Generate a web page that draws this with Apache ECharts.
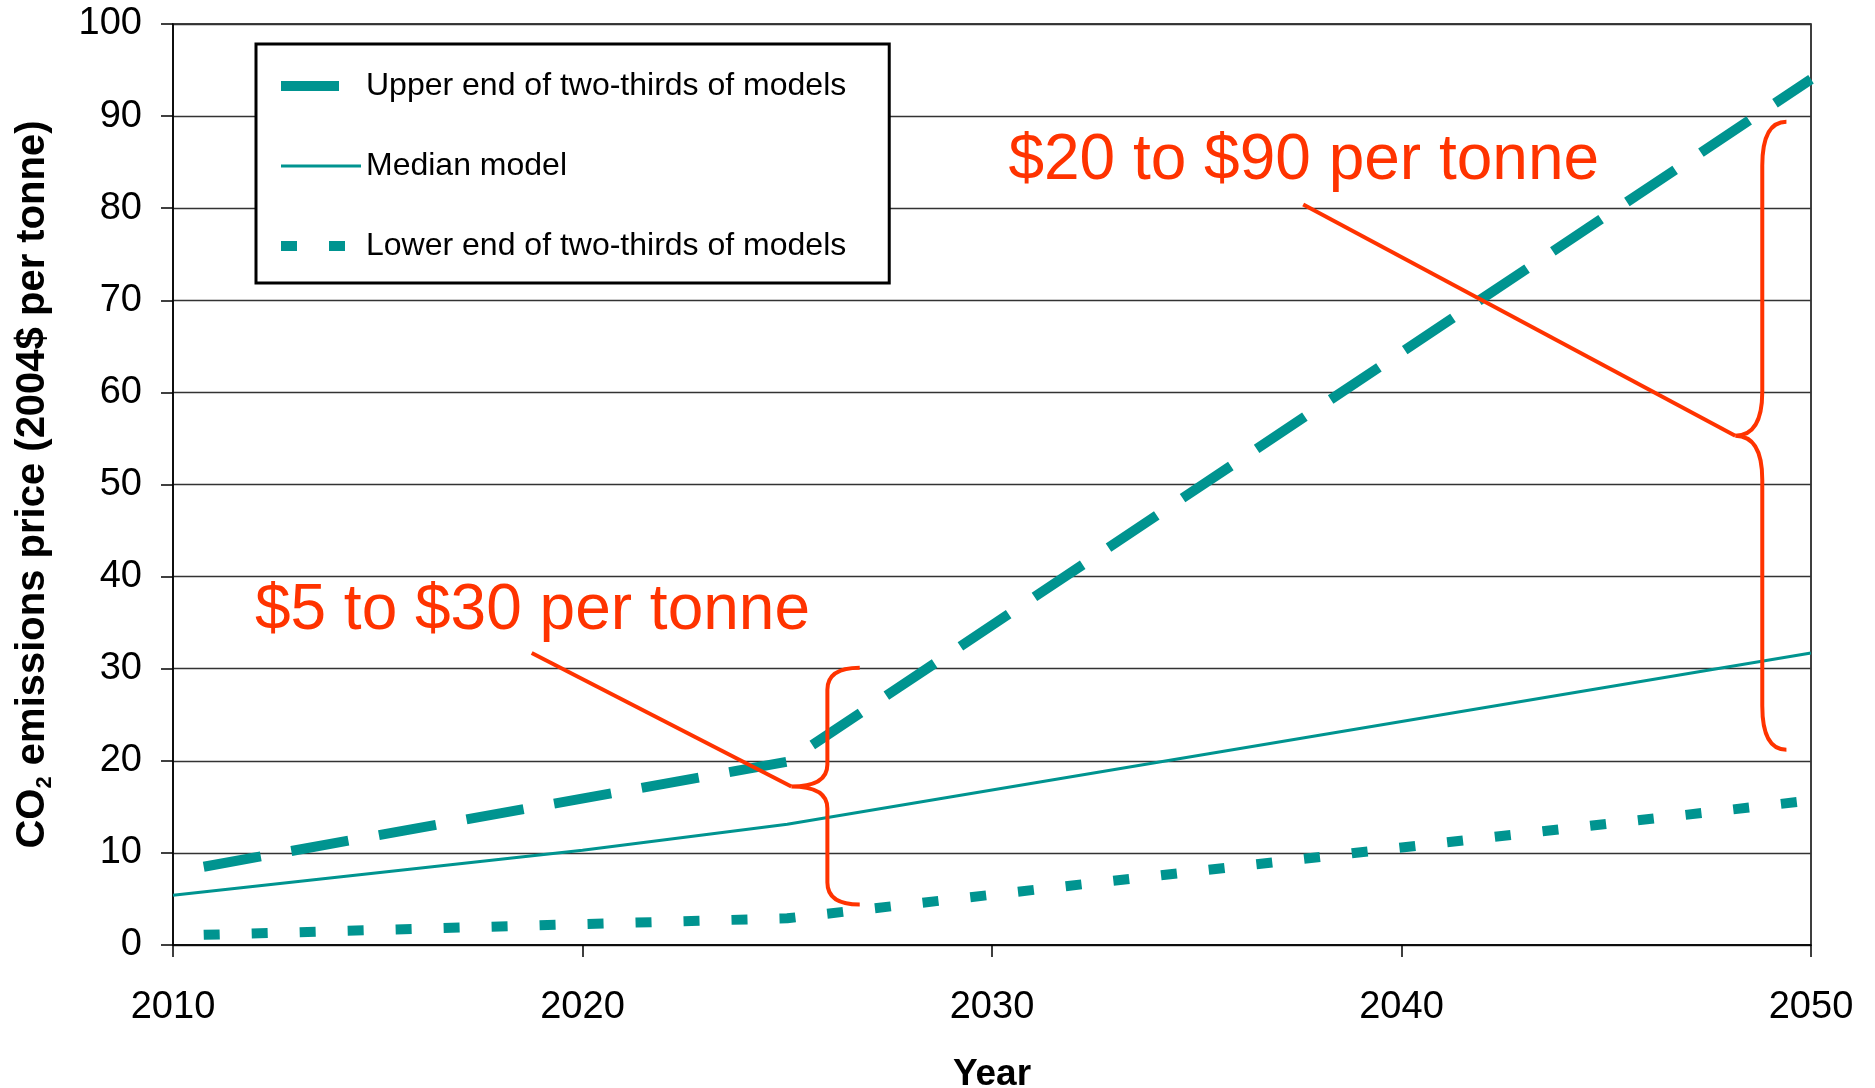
<!DOCTYPE html>
<html>
<head>
<meta charset="utf-8">
<title>CO2 emissions price</title>
<script src="https://cdn.jsdelivr.net/npm/echarts@6/dist/echarts.min.js"></script>
<style>
  html, body { margin: 0; padding: 0; background: #fff; }
  #chart { width: 1875px; height: 1088px; }
</style>
</head>
<body>
<div id="chart"></div>
<script>
const FONT = "'Liberation Sans', Arial, sans-serif";
const TEAL = "#009490";
const RED = "#ff3300";

// series as [year, $ per tonne]
const upperYears = [2010.75, 2025, 2050];
const upperValues = [8.5, 19.9, 94];
const medianYears = [2010, 2020, 2025, 2050];
const medianValues = [5.4, 10.3, 13.1, 31.7];
const lowerYears = [2010.75, 2025, 2050];
const lowerValues = [1.1, 2.9, 15.7];

const seriesNames = [
  "Upper end of two-thirds of models",
  "Median model",
  "Lower end of two-thirds of models",
];

// callouts (brace + pointer + label), in data coordinates
const calloutText = ["$5 to $30 per tonne", "$20 to $90 per tonne"];
const labelYear = [2012.0, 2030.4];
const labelValue = [36.2, 85.1];
const pointerYear = [2018.76, 2037.6];
const pointerValue = [31.7, 80.4];
const braceTipYear = [2025.1, 2048.15];
const braceTipValue = [17.2, 55.3];
const braceStemYear = [2025.98, 2048.81];
const braceEndYear = [2026.77, 2049.4];
const braceTopValue = [30.1, 89.4];
const braceBottomValue = [4.4, 21.2];
const braceRadius = [22, 44];

const zip = (xs, ys) => xs.map((x, i) => [x, ys[i]]);

function renderCallout(params, api) {
  const i = params.dataIndex;
  const top = api.coord([braceEndYear[i], braceTopValue[i]]);
  const bottom = api.coord([braceEndYear[i], braceBottomValue[i]]);
  const stemX = api.coord([braceStemYear[i], 0])[0];
  const tip = api.coord([braceTipYear[i], braceTipValue[i]]);
  const start = api.coord([pointerYear[i], pointerValue[i]]);
  const label = api.coord([labelYear[i], labelValue[i]]);
  const r = braceRadius[i];
  const brace = [
    "M", top[0], top[1],
    "Q", stemX, top[1], stemX, top[1] + r,
    "L", stemX, tip[1] - r,
    "Q", stemX, tip[1], tip[0], tip[1],
    "Q", stemX, tip[1], stemX, tip[1] + r,
    "L", stemX, bottom[1] - r,
    "Q", stemX, bottom[1], bottom[0], bottom[1],
  ].join(" ");
  return {
    type: "group",
    children: [
      { type: "path", shape: { pathData: brace }, style: { fill: "none", stroke: RED, lineWidth: 4 } },
      {
        type: "line",
        shape: { x1: start[0], y1: start[1], x2: tip[0], y2: tip[1] },
        style: { stroke: RED, lineWidth: 4 },
      },
      {
        type: "text",
        x: label[0],
        y: label[1],
        style: {
          text: calloutText[i],
          fill: RED,
          fontSize: 64,
          fontFamily: FONT,
          align: "left",
          verticalAlign: "middle",
        },
      },
    ],
  };
}

const chart = echarts.init(document.getElementById("chart"));
chart.setOption({
  animation: false,
  backgroundColor: "#fff",
  textStyle: { fontFamily: FONT },
  grid: {
    left: 173,
    top: 24,
    width: 1638,
    height: 921,
    outerBoundsMode: "none",
    containLabel: false,
    show: true,
    borderColor: "#000",
    borderWidth: 1.5,
  },
  legend: {
    orient: "vertical",
    left: 256,
    top: 44,
    selectedMode: false,
    backgroundColor: "#fff",
    borderColor: "#000",
    borderWidth: 3,
    padding: [26, 43, 21, 20],
    itemWidth: 80,
    itemHeight: 12,
    itemGap: 48,
    itemStyle: { opacity: 0 },
    textStyle: { fontSize: 32, lineHeight: 32, color: "#000", fontFamily: FONT },
    data: [
      { name: seriesNames[0], lineStyle: { width: 10, type: [58, 31], color: TEAL } },
      { name: seriesNames[1], lineStyle: { width: 3, type: "solid", color: TEAL } },
      { name: seriesNames[2], lineStyle: { width: 10, type: [16, 32], color: TEAL } },
    ],
  },
  xAxis: {
    type: "value",
    min: 2010,
    max: 2050,
    interval: 10,
    name: "Year",
    nameLocation: "middle",
    nameGap: 111,
    nameTextStyle: { fontSize: 37, fontWeight: "bold", color: "#000" },
    axisLine: { show: true, lineStyle: { color: "#000", width: 1.5 } },
    axisTick: { show: true, length: 12, lineStyle: { color: "#000", width: 1.5 } },
    axisLabel: { fontSize: 38, color: "#000", margin: 44, formatter: (v) => String(v) },
    splitLine: { show: false },
  },
  yAxis: {
    type: "value",
    min: 0,
    max: 100,
    interval: 10,
    name: "{b|CO}{s|2}{b| emissions price (2004$ per tonne)}",
    nameLocation: "middle",
    nameGap: 117,
    nameTextStyle: {
      color: "#000",
      rich: {
        b: { fontSize: 40, fontWeight: "bold", lineHeight: 46, fontFamily: FONT, color: "#000" },
        s: { fontSize: 22, fontWeight: "bold", lineHeight: 22, verticalAlign: "bottom", fontFamily: FONT, color: "#000" },
      },
    },
    axisLine: { show: true, lineStyle: { color: "#000", width: 1.5 } },
    axisTick: { show: true, length: 12, lineStyle: { color: "#000", width: 1.5 } },
    axisLabel: { fontSize: 38, color: "#000", margin: 31 },
    splitLine: { show: true, lineStyle: { color: "#333", width: 1.4 } },
  },
  series: [
    {
      name: seriesNames[0],
      type: "line",
      data: zip(upperYears, upperValues),
      symbol: "none",
      lineStyle: { color: TEAL, width: 10, type: [58, 31], cap: "butt" },
      itemStyle: { color: TEAL },
      z: 3,
    },
    {
      name: seriesNames[1],
      type: "line",
      data: zip(medianYears, medianValues),
      symbol: "none",
      lineStyle: { color: TEAL, width: 3 },
      itemStyle: { color: TEAL },
      z: 3,
    },
    {
      name: seriesNames[2],
      type: "line",
      data: zip(lowerYears, lowerValues),
      symbol: "none",
      lineStyle: { color: TEAL, width: 10, type: [16, 32], cap: "butt" },
      itemStyle: { color: TEAL },
      z: 3,
    },
    {
      name: "callouts",
      type: "custom",
      data: zip(labelYear, labelValue),
      renderItem: renderCallout,
      clip: false,
      silent: true,
      z: 5,
    },
  ],
});
</script>
</body>
</html>
